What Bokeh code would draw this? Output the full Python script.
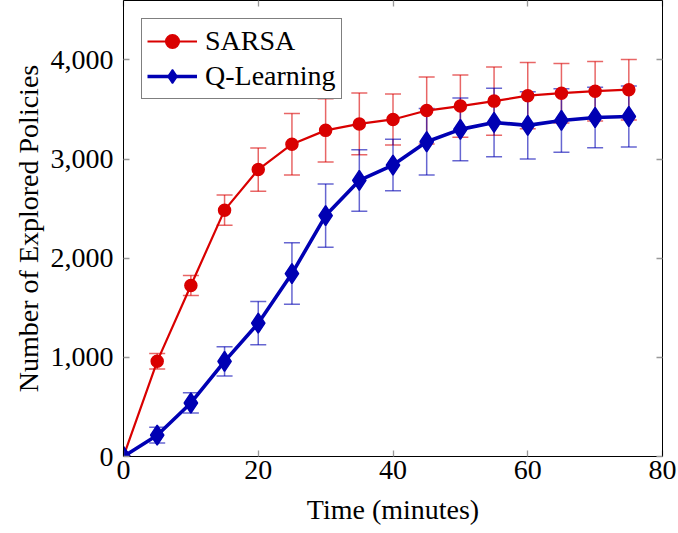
from bokeh.plotting import figure
from bokeh.models import (ColumnDataSource, Whisker, TeeHead, LinearAxis, Range1d,
                          NumeralTickFormatter, FixedTicker, Legend, LegendItem,
                          CustomJSTickFormatter)
from bokeh.embed import file_html
from bokeh.resources import INLINE

# ---- data ----
time_min = [0, 5, 10, 15, 20, 25, 30, 35, 40, 45, 50, 55, 60, 65, 70, 75]
sarsa_mean = [0, 960, 1725, 2485, 2895, 3150, 3290, 3355, 3400, 3490, 3535, 3585, 3640, 3665, 3685, 3700]
sarsa_err = [0, 78, 100, 152, 218, 310, 318, 312, 258, 338, 314, 345, 335, 300, 300, 305]
qlearn_mean = [0, 215, 540, 960, 1345, 1845, 2430, 2785, 2940, 3175, 3300, 3370, 3340, 3390, 3420, 3430]
qlearn_err = [0, 80, 102, 148, 218, 310, 320, 310, 260, 335, 317, 345, 340, 320, 305, 308]

x_ticks = [0, 20, 40, 60, 80]
y_ticks = [0, 1000, 2000, 3000, 4000]

series_labels = ["SARSA", "Q-Learning"]
x_label = "Time (minutes)"
y_label = "Number of Explored Policies"

FONT = "Liberation Serif"
RED = "#d90000"
BLUE = "#0000b3"

p = figure(width=678, height=533, output_backend="svg", toolbar_location=None,
           x_range=Range1d(0, 80), y_range=Range1d(0, 4600),
           min_border_left=123, min_border_right=16, min_border_top=0, min_border_bottom=77)
p.grid.visible = False
p.outline_line_color = "black"
p.outline_line_width = 1
p.background_fill_color = "white"
p.border_fill_color = "white"

xax = p.xaxis[0]
yax = p.yaxis[0]
xax.ticker = FixedTicker(ticks=x_ticks)
yax.ticker = FixedTicker(ticks=y_ticks)
yax.formatter = NumeralTickFormatter(format="0,0")

blank = CustomJSTickFormatter(code="return ''")
rax = LinearAxis(ticker=FixedTicker(ticks=y_ticks), formatter=blank, major_label_standoff=0)
tax = LinearAxis(ticker=FixedTicker(ticks=x_ticks), formatter=blank, major_label_standoff=0)
p.add_layout(rax, "right")
p.add_layout(tax, "above")

for ax in (xax, yax, rax, tax):
    ax.major_tick_in = 6
    ax.major_tick_out = 0
    ax.minor_tick_in = 0
    ax.minor_tick_out = 0
    ax.major_tick_line_color = "#999999"
    ax.major_tick_line_width = 1.3
    ax.axis_line_color = "black"
    ax.major_label_text_font = FONT
    ax.major_label_text_font_size = "28px"
    ax.major_label_text_color = "black"
    ax.axis_label_text_font = FONT
    ax.axis_label_text_font_size = "28px"
    ax.axis_label_text_font_style = "normal"
    ax.axis_label_text_color = "black"

xax.axis_label = x_label
xax.major_label_standoff = 4
xax.axis_label_standoff = 12
yax.axis_label = y_label
yax.major_label_standoff = 10
yax.axis_label_standoff = 4


def whisker_source(xs, means, errs):
    keep = [i for i, e in enumerate(errs) if e > 0]
    return ColumnDataSource(dict(
        x=[xs[i] for i in keep],
        upper=[means[i] + errs[i] for i in keep],
        lower=[means[i] - errs[i] for i in keep],
    ))


legend_items = []
specs = [
    (series_labels[0], sarsa_mean, sarsa_err, RED, 2.2, "circle", 12, 1.5),
    (series_labels[1], qlearn_mean, qlearn_err, BLUE, 3.6, "diamond", 20, 1.5),
]
for label, means, errs, color, lw, marker, msize, mlw in specs:
    wsrc = whisker_source(time_min, means, errs)
    w = Whisker(source=wsrc, base="x", upper="upper", lower="lower",
                line_color=color, line_alpha=0.6, line_width=1.5,
                upper_head=TeeHead(size=16, line_color=color, line_alpha=0.6, line_width=1.5),
                lower_head=TeeHead(size=16, line_color=color, line_alpha=0.6, line_width=1.5))
    p.add_layout(w)
    src = ColumnDataSource(dict(x=time_min, y=means))
    lr = p.line("x", "y", source=src, line_color=color, line_width=lw)
    sr = p.scatter("x", "y", source=src, marker=marker, size=msize,
                   fill_color=color, line_color=color, line_width=mlw)
    legend_items.append(LegendItem(label=label, renderers=[lr, sr]))

legend = Legend(items=legend_items, location="top_left", margin=18,
                label_text_font=FONT, label_text_font_size="28px",
                label_text_color="black", glyph_width=50, glyph_height=34,
                label_height=34, label_standoff=8, spacing=1, padding=5,
                border_line_color="black", border_line_width=1,
                background_fill_color="white", background_fill_alpha=1)
p.add_layout(legend)

open("out.html", "w").write(file_html(p, INLINE))
